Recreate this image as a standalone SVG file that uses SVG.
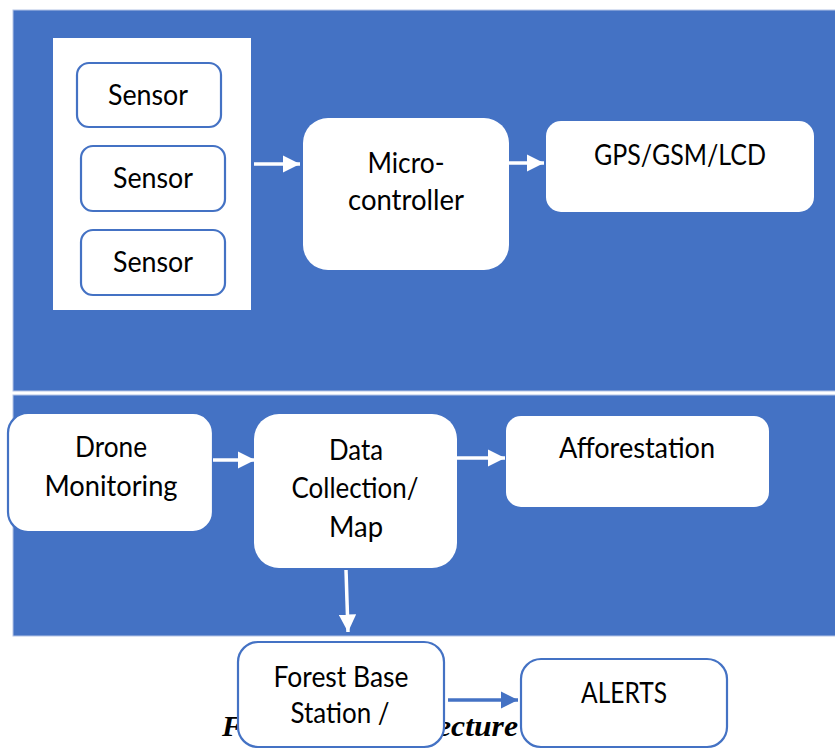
<svg xmlns="http://www.w3.org/2000/svg" width="835" height="749" viewBox="0 0 835 749">
<defs>
<style>
.panel{fill:#4472c4;stroke:#b4c4e6;stroke-width:1}
.wbox{fill:#ffffff}
.obox{fill:#ffffff;stroke:#4472c4;stroke-width:2.2}
.lbl{font-family:Lato,"Liberation Sans",sans-serif;font-size:28px;fill:#000;text-anchor:middle}
.cap{font-family:"Liberation Serif",serif;font-size:30px;font-weight:bold;font-style:italic;fill:#000}
.wl{stroke:#ffffff;stroke-width:3.5;fill:none}
.bl{stroke:#4472c4;stroke-width:3.5;fill:none}
</style>
<marker id="wa" markerWidth="5" markerHeight="5" refX="4.4" refY="2.2" orient="auto" markerUnits="strokeWidth" viewBox="0 0 4.4 4.4">
<path d="M0,0 L4.4,2.2 L0,4.4 Z" fill="#ffffff"/>
</marker>
<marker id="ba" markerWidth="5" markerHeight="5" refX="4.4" refY="2.2" orient="auto" markerUnits="strokeWidth" viewBox="0 0 4.4 4.4">
<path d="M0,0 L4.4,2.2 L0,4.4 Z" fill="#4472c4"/>
</marker>
</defs>
<rect width="835" height="749" fill="#ffffff"/>
<rect class="panel" x="13" y="10" width="824" height="381"/>
<rect class="panel" x="13" y="395" width="824" height="241"/>
<text class="cap" x="222" y="736">F</text>
<text class="cap" x="437" y="736" textLength="81" lengthAdjust="spacingAndGlyphs">ecture</text>
<g id="sensor-group"><rect class="wbox" x="53" y="38" width="198" height="272"/></g>
<g id="sensor1"><rect class="obox" x="77" y="63" width="144" height="64" rx="12"/><text class="lbl" x="148" y="105" textLength="80" lengthAdjust="spacingAndGlyphs">Sensor</text></g>
<g id="sensor2"><rect class="obox" x="81" y="146" width="144" height="65" rx="12"/><text class="lbl" x="153" y="188" textLength="80" lengthAdjust="spacingAndGlyphs">Sensor</text></g>
<g id="sensor3"><rect class="obox" x="81" y="230" width="144" height="65" rx="12"/><text class="lbl" x="153" y="272" textLength="80" lengthAdjust="spacingAndGlyphs">Sensor</text></g>
<g id="microcontroller"><rect class="wbox" x="303" y="118" width="206" height="152" rx="25"/><text class="lbl" x="406" y="173" textLength="77" lengthAdjust="spacingAndGlyphs">Micro-</text><text class="lbl" x="406" y="210" textLength="116" lengthAdjust="spacingAndGlyphs">controller</text></g>
<g id="gps"><rect class="wbox" x="546" y="121" width="268" height="91" rx="15"/><text class="lbl" x="680" y="165" textLength="172" lengthAdjust="spacingAndGlyphs">GPS/GSM/LCD</text></g>
<g id="drone"><rect class="obox" x="8" y="413" width="205" height="119" rx="20"/><text class="lbl" x="111" y="457" textLength="72" lengthAdjust="spacingAndGlyphs">Drone</text><text class="lbl" x="111" y="496" textLength="133" lengthAdjust="spacingAndGlyphs">Monitoring</text></g>
<g id="data"><rect class="wbox" x="254" y="414" width="203" height="154" rx="25"/><text class="lbl" x="356" y="460" textLength="54" lengthAdjust="spacingAndGlyphs">Data</text><text class="lbl" x="355" y="498" textLength="127" lengthAdjust="spacingAndGlyphs">Collection/</text><text class="lbl" x="356" y="537" textLength="54" lengthAdjust="spacingAndGlyphs">Map</text></g>
<g id="afforestation"><rect class="wbox" x="506" y="416" width="263" height="91" rx="15"/><text class="lbl" x="637" y="458" textLength="156" lengthAdjust="spacingAndGlyphs">Afforestation</text></g>
<g id="forest-base"><rect class="obox" x="238" y="642" width="206" height="105" rx="20"/><text class="lbl" x="341" y="687" textLength="135" lengthAdjust="spacingAndGlyphs">Forest Base</text><text class="lbl" x="340" y="723" textLength="99" lengthAdjust="spacingAndGlyphs">Station /</text></g>
<g id="alerts"><rect class="obox" x="521" y="659" width="206" height="88" rx="20"/><text class="lbl" x="624" y="703" textLength="86" lengthAdjust="spacingAndGlyphs">ALERTS</text></g>
<g id="connectors">
<line class="wl" x1="254" y1="164" x2="300" y2="164" marker-end="url(#wa)"/>
<line class="wl" x1="509" y1="163" x2="544" y2="163" marker-end="url(#wa)"/>
<line class="wl" x1="213" y1="460" x2="255" y2="460" marker-end="url(#wa)"/>
<line class="wl" x1="457" y1="458" x2="505" y2="458" marker-end="url(#wa)"/>
<line class="wl" x1="346" y1="570" x2="348" y2="632" marker-end="url(#wa)"/>
<line class="bl" x1="448" y1="700" x2="518" y2="700" marker-end="url(#ba)"/>
</g>
</svg>
